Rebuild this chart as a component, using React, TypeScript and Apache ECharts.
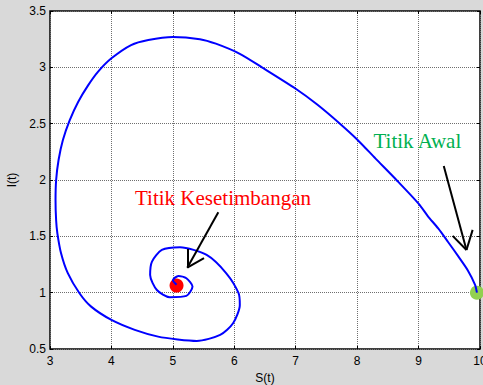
import React, { useEffect, useRef } from "react";
import * as echarts from "echarts";

// Trajectory S(t), I(t) (in time order)
const sValues = [
  9.95, 9.92, 9.8, 9.65, 9.48, 9.32, 9.15, 9.0, 8.64, 8.3, 8.0, 7.72, 7.35, 7.0, 6.45, 6.09, 5.7, 5.44, 5.0,
  4.6, 4.32, 4.0, 3.78, 3.62, 3.46, 3.32, 3.21, 3.14, 3.1, 3.09, 3.1, 3.12, 3.18, 3.29, 3.48, 3.67, 4.0, 4.38,
  4.76, 5.08, 5.39, 5.77, 5.98, 6.09, 6.07, 5.87, 5.55, 5.116, 4.82, 4.66, 4.63, 4.74, 4.95, 5.22, 5.32, 5.22,
  5.09, 5.0, 5.06,
];
const iValues = [
  1.0, 1.07, 1.2, 1.32, 1.45, 1.57, 1.68, 1.79, 2.0, 2.19, 2.36, 2.5, 2.67, 2.81, 3.0, 3.12, 3.21, 3.25, 3.27,
  3.243, 3.198, 3.08, 2.96, 2.84, 2.695, 2.53, 2.355, 2.18, 2.0, 1.82, 1.64, 1.527, 1.35, 1.173, 0.995, 0.876,
  0.758, 0.67, 0.61, 0.585, 0.572, 0.625, 0.728, 0.891, 0.995, 1.172, 1.335, 1.403, 1.379, 1.276, 1.157, 1.024,
  0.96, 0.971, 1.054, 1.128, 1.149, 1.11, 1.07,
];

// Marked points
const startPoint = [9.95, 1.0];
const equilibriumPoint = [5.06, 1.063];

// Annotation texts
const annotationNames = ["Titik Awal", "Titik Kesetimbangan"];
const annotationColors = ["#00b050", "#ff0000"];
const annotationPositions = [
  [8.98, 2.345],
  [5.816, 1.841],
];

// Arrow segments [x1, y1, x2, y2]
const arrowSegments = [
  [9.41, 2.125, 9.78, 1.379],
  [9.78, 1.379, 9.555, 1.504],
  [9.78, 1.379, 9.88, 1.557],
  [5.74, 1.714, 5.235, 1.222],
  [5.235, 1.222, 5.235, 1.388],
  [5.235, 1.222, 5.507, 1.306],
];

const xTicks = { min: 3, max: 10, interval: 1 };
const yTicks = { min: 0.5, max: 3.5, interval: 0.5 };

export default function App() {
  const ref = useRef<HTMLDivElement>(null);

  useEffect(() => {
    if (!ref.current) return;
    const chart = echarts.init(ref.current, null, { renderer: "svg" });
    const sans = "Liberation Sans";
    const serif = "Liberation Serif";

    const curve = sValues.map((s, i) => [s, iValues[i]]);

    const baseX = {
      type: "value" as const,
      min: xTicks.min,
      max: xTicks.max,
      interval: xTicks.interval,
      axisLine: { show: false },
      axisTick: { show: true, inside: true, length: 3, lineStyle: { color: "#000" } },
    };
    const baseY = {
      type: "value" as const,
      min: yTicks.min,
      max: yTicks.max,
      interval: yTicks.interval,
      axisLine: { show: false },
      axisTick: { show: true, inside: true, length: 3, lineStyle: { color: "#000" } },
    };

    chart.setOption({
      animation: false,
      backgroundColor: "#d9d9d9",
      textStyle: { fontFamily: sans },
      grid: {
        left: 50,
        top: 11,
        right: 3,
        bottom: 36,
        containLabel: false,
        outerBoundsMode: "none",
        show: true,
        backgroundColor: "#ffffff",
        borderColor: "#000",
        borderWidth: 1.5,
      },
      xAxis: [
        {
          ...baseX,
          position: "bottom",
          name: "S(t)",
          nameLocation: "middle",
          nameGap: 23,
          nameTextStyle: { fontFamily: sans, fontSize: 12, color: "#000" },
          axisLabel: { fontFamily: sans, fontSize: 12, color: "#000", margin: 6, hideOverlap: false },
          splitLine: { show: true, lineStyle: { color: "#6f6f6f", type: "dotted", width: 1 } },
        },
        {
          ...baseX,
          position: "top",
          axisLabel: { show: false },
          splitLine: { show: false },
        },
      ],
      yAxis: [
        {
          ...baseY,
          position: "left",
          name: "I(t)",
          nameLocation: "middle",
          nameGap: 31,
          nameRotate: 90,
          nameTextStyle: { fontFamily: sans, fontSize: 12, color: "#000" },
          axisLabel: { fontFamily: sans, fontSize: 12, color: "#000", margin: 4 },
          splitLine: { show: true, lineStyle: { color: "#6f6f6f", type: "dotted", width: 1 } },
        },
        {
          ...baseY,
          position: "right",
          axisLabel: { show: false },
          splitLine: { show: false },
        },
      ],
      series: [
        {
          type: "line",
          data: curve,
          showSymbol: false,
          smooth: 0.25,
          lineStyle: { color: "#0000ff", width: 2 },
          silent: true,
          markLine: {
            silent: true,
            symbol: ["none", "none"],
            label: { show: false },
            lineStyle: { color: "#000", width: 2, type: "solid" },
            data: arrowSegments.map((a) => [{ coord: [a[0], a[1]] }, { coord: [a[2], a[3]] }]),
          },
        },
        {
          type: "scatter",
          symbolSize: 14,
          silent: true,
          itemStyle: { opacity: 1 },
          data: [
            { value: startPoint, itemStyle: { color: "#92d050", opacity: 1 } },
            { value: equilibriumPoint, itemStyle: { color: "#ff0000", opacity: 1 } },
          ],
        },
        {
          type: "scatter",
          symbolSize: 0,
          silent: true,
          itemStyle: { opacity: 1 },
          data: annotationNames.map((n, i) => ({
            value: annotationPositions[i],
            name: n,
            label: {
              show: true,
              position: "inside",
              formatter: n,
              fontFamily: serif,
              fontSize: 21,
              color: annotationColors[i],
            },
          })),
        },
      ],
    });
    return () => chart.dispose();
  }, []);

  return (
    <div
      ref={ref}
      style={{ position: "fixed", left: 0, top: 0, width: 483, height: 385 }}
    />
  );
}
